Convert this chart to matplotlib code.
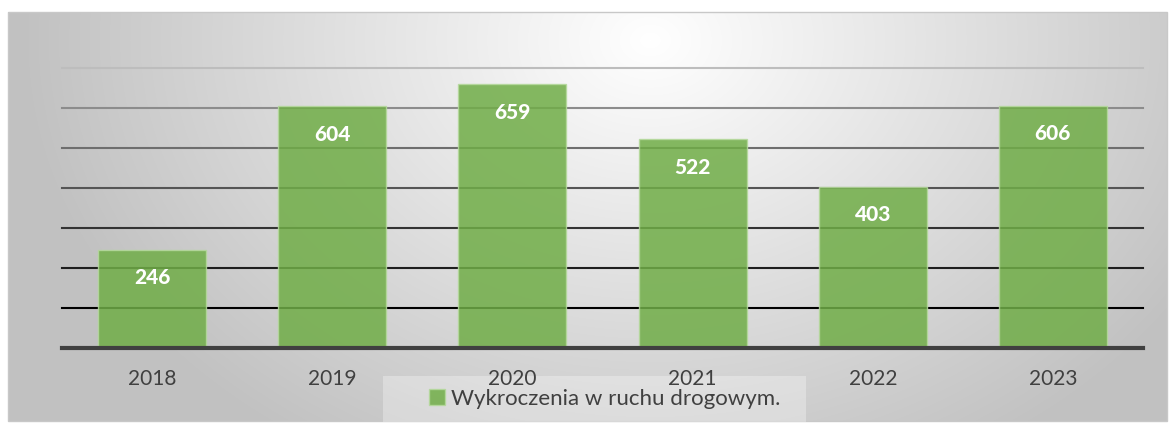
import numpy as np
import matplotlib
matplotlib.use("Agg")
import matplotlib.pyplot as plt
from matplotlib.patches import Patch, Rectangle

years = ["2018", "2019", "2020", "2021", "2022", "2023"]
values = [246, 604, 659, 522, 403, 606]
series_name = "Wykroczenia w ruchu drogowym."
grid_values = [100, 200, 300, 400, 500, 600, 700]

W, H = 1169, 430
fig = plt.figure(figsize=(W / 100, H / 100), dpi=100, facecolor="white")
plt.rcParams["font.family"] = ["Lato", "DejaVu Sans"]

# background gradient box
bx0, bx1, by0, by1 = 8, 1167, 12, 421
ax_bg = fig.add_axes([bx0 / W, 1 - by1 / H, (bx1 - bx0) / W, (by1 - by0) / H], zorder=0)
xs = np.arange(bx0, bx1)
ys = np.arange(by0, by1)
X, Y = np.meshgrid(xs, ys)
d = np.sqrt((X - 650) ** 2 + ((Y - 40) * 1.3) ** 2) / 650
g = np.clip(1 - 0.25 * d, 0.76, 1.0)
ax_bg.imshow(np.dstack([g, g, g]), aspect="auto", extent=[0, 1, 0, 1], origin="upper")
ax_bg.set_axis_off()
fig.add_artist(Rectangle((bx0 / W, 1 - by1 / H), (bx1 - bx0) / W, (by1 - by0) / H,
                         transform=fig.transFigure, fill=False, edgecolor="#c8c8c8", lw=1, zorder=0.2))

# legend backdrop
fig.add_artist(Rectangle((383 / W, 1 - 422 / H), (806 - 383) / W, (422 - 376) / H,
                         transform=fig.transFigure, facecolor="white", alpha=0.3,
                         edgecolor="none", zorder=0.5))

ax = fig.add_axes([62 / W, 1 - 348 / H, (1143 - 62) / W, (348 - 68) / H], zorder=1)
ax.set_facecolor("none")
x = np.arange(len(years))
ax.set_xlim(-0.5, len(years) - 0.5)
ax.set_ylim(0, 700)

grid_colors = ["#000000", "#1e1e1e", "#333333", "#555555", "#6e6e6e", "#8c8c8c", "#bdbdbd"]
for gv, gc in zip(grid_values, grid_colors):
    ax.axhline(gv, color=gc, lw=1.5, zorder=1, clip_on=False)

ax.bar(x, values, width=0.6, color="#70ad47", alpha=0.85, edgecolor="#b5d99c",
       linewidth=1, zorder=2)
ax.axhline(0, color="#404040", lw=3, zorder=3, clip_on=False)

for xi, v in zip(x, values):
    ax.annotate(str(v), (xi, v), xytext=(0, -28), textcoords="offset pixels",
                ha="center", va="center", color="white", fontsize=15, fontweight="black",
                zorder=4)

ax.set_xticks(x)
ax.set_xticklabels(years, fontsize=15, color="#404040")
ax.tick_params(axis="x", length=0, pad=15)
ax.set_yticks([])
for s in ax.spines.values():
    s.set_visible(False)

fig.legend(handles=[Patch(facecolor="#70ad47", alpha=0.85, edgecolor="#b5d99c", label=series_name)],
           loc="center", bbox_to_anchor=(605 / W, 1 - 399 / H), frameon=False,
           fontsize=16, handlelength=0.7, handleheight=0.7, handletextpad=0.3,
           labelcolor="#404040")

fig.savefig("out.png", dpi=100, facecolor="white")
